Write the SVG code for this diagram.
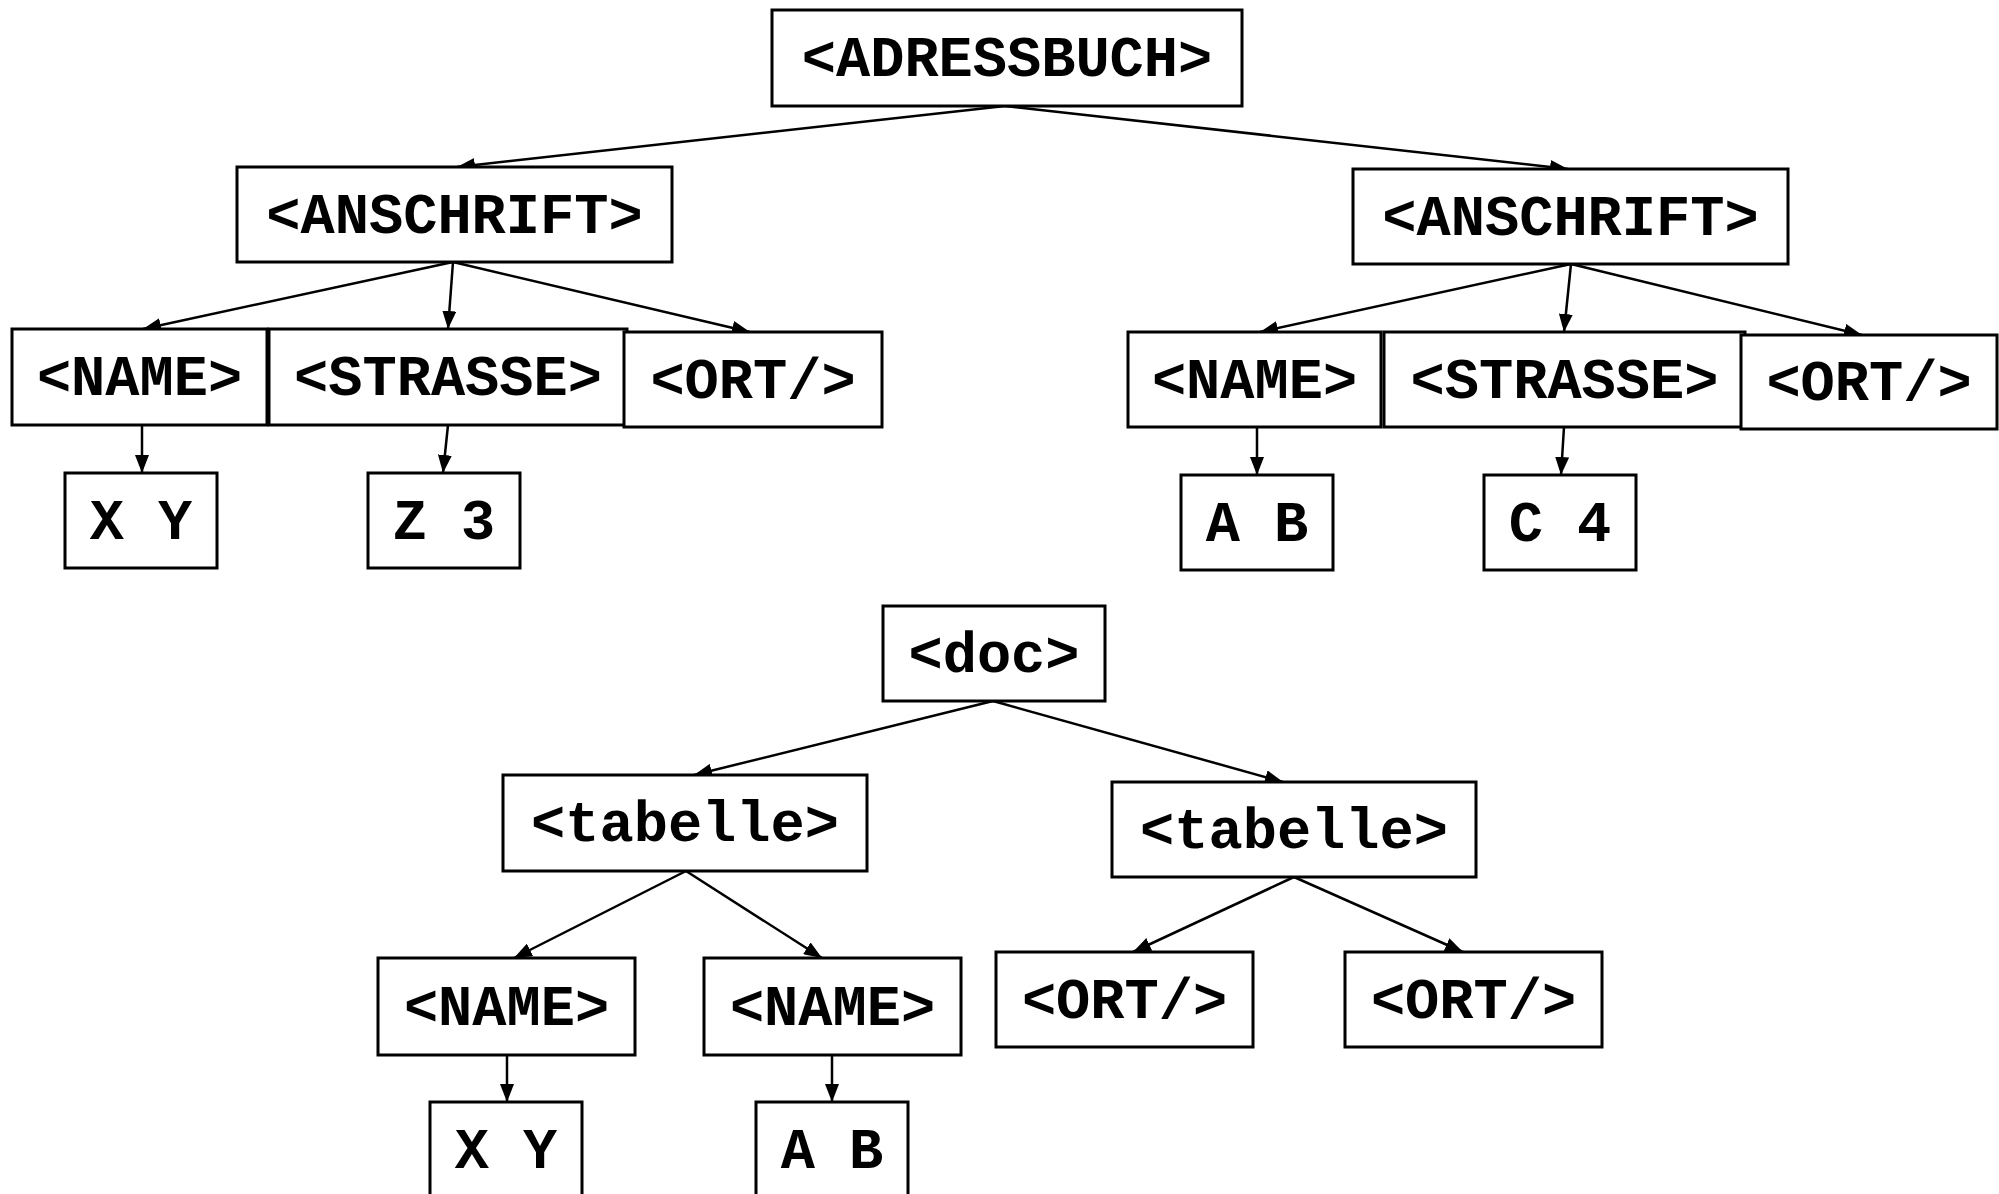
<svg xmlns="http://www.w3.org/2000/svg" width="1999" height="1194" viewBox="0 0 1999 1194">
<defs>
<marker id="arr" markerUnits="userSpaceOnUse" markerWidth="19" markerHeight="14" refX="18" refY="7" orient="auto">
<path d="M0,0 L18,7 L0,14 z" fill="#000"/>
</marker>
<style>
.box{fill:#fff;stroke:#000;stroke-width:3}
.t{font-family:"Liberation Mono","Courier New",monospace;font-weight:bold;font-size:57px;text-anchor:middle;fill:#000}
.e{stroke:#000;stroke-width:2.5;fill:none;marker-end:url(#arr)}
</style>
</defs>
<rect width="1999" height="1194" fill="#fff"/>
<g id="connectors">
<line class="e" x1="1005" y1="106" x2="457" y2="167"/>
<line class="e" x1="1005" y1="106" x2="1568" y2="169"/>
<line class="e" x1="453" y1="262" x2="143" y2="329"/>
<line class="e" x1="453" y1="262" x2="448" y2="329"/>
<line class="e" x1="453" y1="262" x2="750" y2="332"/>
<line class="e" x1="142" y1="425" x2="142" y2="473"/>
<line class="e" x1="448" y1="425" x2="443" y2="473"/>
<line class="e" x1="1571" y1="264" x2="1260" y2="332"/>
<line class="e" x1="1571" y1="264" x2="1564" y2="332"/>
<line class="e" x1="1571" y1="264" x2="1862" y2="335"/>
<line class="e" x1="1257" y1="427" x2="1257" y2="475"/>
<line class="e" x1="1564" y1="427" x2="1561" y2="475"/>
<line class="e" x1="993" y1="701" x2="694" y2="775"/>
<line class="e" x1="993" y1="701" x2="1283" y2="782"/>
<line class="e" x1="686" y1="871" x2="514" y2="958"/>
<line class="e" x1="686" y1="871" x2="822" y2="958"/>
<line class="e" x1="1294" y1="877" x2="1133" y2="952"/>
<line class="e" x1="1294" y1="877" x2="1463" y2="952"/>
<line class="e" x1="507" y1="1055" x2="507" y2="1102"/>
<line class="e" x1="832" y1="1055" x2="832" y2="1102"/>
</g>
<g id="n1"><rect class="box" x="772" y="10" width="470" height="96"/><text class="t" x="1007" y="76">&lt;ADRESSBUCH&gt;</text></g>
<g id="n2"><rect class="box" x="237" y="167" width="435" height="95"/><text class="t" x="454.5" y="233">&lt;ANSCHRIFT&gt;</text></g>
<g id="n3"><rect class="box" x="1353" y="169" width="435" height="95"/><text class="t" x="1570.5" y="235">&lt;ANSCHRIFT&gt;</text></g>
<g id="n4"><rect class="box" x="12" y="329" width="255" height="96"/><text class="t" x="139.5" y="395">&lt;NAME&gt;</text></g>
<g id="n5"><rect class="box" x="269" y="329" width="358" height="96"/><text class="t" x="448" y="395">&lt;STRASSE&gt;</text></g>
<g id="n6"><rect class="box" x="624" y="332" width="258" height="95"/><text class="t" x="753" y="398">&lt;ORT/&gt;</text></g>
<g id="n7"><rect class="box" x="65" y="473" width="152" height="95"/><text class="t" x="141" y="539">X Y</text></g>
<g id="n8"><rect class="box" x="368" y="473" width="152" height="95"/><text class="t" x="444" y="539">Z 3</text></g>
<g id="n9"><rect class="box" x="1128" y="332" width="253" height="95"/><text class="t" x="1254.5" y="398">&lt;NAME&gt;</text></g>
<g id="n10"><rect class="box" x="1384" y="332" width="361" height="95"/><text class="t" x="1564.5" y="398">&lt;STRASSE&gt;</text></g>
<g id="n11"><rect class="box" x="1741" y="335" width="256" height="94"/><text class="t" x="1869" y="400">&lt;ORT/&gt;</text></g>
<g id="n12"><rect class="box" x="1181" y="475" width="152" height="95"/><text class="t" x="1257" y="541">A B</text></g>
<g id="n13"><rect class="box" x="1484" y="475" width="152" height="95"/><text class="t" x="1560" y="541">C 4</text></g>
<g id="n14"><rect class="box" x="883" y="606" width="222" height="95"/><text class="t" x="994" y="672">&lt;doc&gt;</text></g>
<g id="n15"><rect class="box" x="503" y="775" width="364" height="96"/><text class="t" x="685" y="841">&lt;tabelle&gt;</text></g>
<g id="n16"><rect class="box" x="1112" y="782" width="364" height="95"/><text class="t" x="1294" y="848">&lt;tabelle&gt;</text></g>
<g id="n17"><rect class="box" x="378" y="958" width="257" height="97"/><text class="t" x="506.5" y="1025">&lt;NAME&gt;</text></g>
<g id="n18"><rect class="box" x="704" y="958" width="257" height="97"/><text class="t" x="832.5" y="1025">&lt;NAME&gt;</text></g>
<g id="n19"><rect class="box" x="996" y="952" width="257" height="95"/><text class="t" x="1124.5" y="1018">&lt;ORT/&gt;</text></g>
<g id="n20"><rect class="box" x="1345" y="952" width="257" height="95"/><text class="t" x="1473.5" y="1018">&lt;ORT/&gt;</text></g>
<g id="n21"><rect class="box" x="430" y="1102" width="152" height="96"/><text class="t" x="506" y="1168">X Y</text></g>
<g id="n22"><rect class="box" x="756" y="1102" width="152" height="96"/><text class="t" x="832" y="1168">A B</text></g>
</svg>
